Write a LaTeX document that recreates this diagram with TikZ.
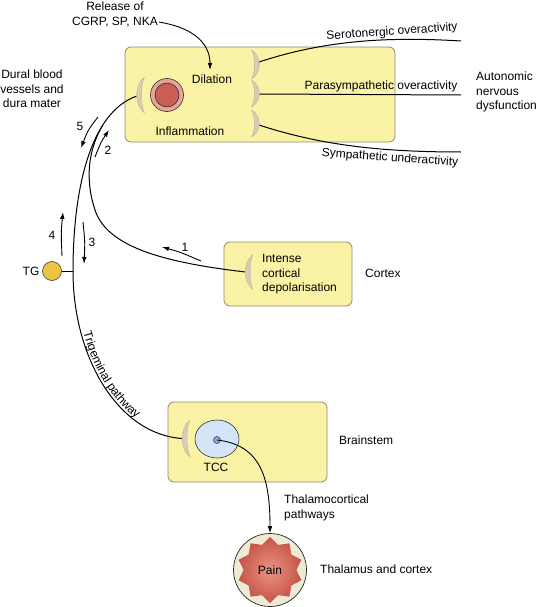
\documentclass[tikz,border=0pt]{standalone}
\usepackage{fontspec}
\setmainfont{Liberation Sans}
\usetikzlibrary{arrows.meta,shapes.geometric,decorations.text}
\definecolor{boxfill}{HTML}{FAF3A6}
\definecolor{boxline}{HTML}{8F8A70}
\definecolor{brk}{HTML}{D6CDB5}
\definecolor{brkline}{HTML}{C2B9A0}
\definecolor{ringfill}{HTML}{E6A595}
\definecolor{redfill}{HTML}{C95E57}
\definecolor{tgfill}{HTML}{EBC445}
\definecolor{tccfill}{HTML}{D5E5F8}
\definecolor{dotfill}{HTML}{8FA8DA}
\definecolor{painbg}{HTML}{EFEAD5}
\definecolor{starin}{HTML}{EA9585}
\definecolor{starout}{HTML}{C65447}
\tikzset{
  regionbox/.style={draw=boxline, fill=boxfill, line width=0.8pt, rounded corners=6pt, inner sep=0pt},
  nerve/.style={line width=1pt, draw=black},
  flow/.style={line width=0.9pt, -{Latex[length=7pt,width=4.6pt]}},
  lbl/.style={inner sep=0pt},
  numlbl/.style={inner sep=0pt},
  outline/.style={draw=black!80, line width=0.6pt},
  cresc/.pic={
    \filldraw[fill=brk, draw=brkline, line width=0.5pt, line join=round]
      (-2.5,-1) .. controls (8,-0.55) and (8,0.55) .. (-2.5,1)
      .. controls (1.5,0.55) and (1.5,-0.55) .. (-2.5,-1) -- cycle;
  }
}
\begin{document}
\begin{tikzpicture}[x=1pt,y=-1pt,font=\fontsize{12}{14.5}\selectfont]
\useasboundingbox (0,0) rectangle (537,607);

% region boxes
\node[regionbox, minimum width=270pt, minimum height=95pt] (topbox) at (260,94.5) {};
\node[regionbox, minimum width=128pt, minimum height=64pt] (cortexbox) at (288,274) {};
\node[regionbox, minimum width=159pt, minimum height=80pt] (brainbox) at (247.5,442) {};

% attachment points
\coordinate (pb) at (137,96);
\coordinate (tb) at (182.5,438.5);
\coordinate (cb) at (245.5,272);
\coordinate (tgj) at (73,271);
\coordinate (sj) at (102.5,125.5);
\coordinate (r1) at (259,62);
\coordinate (r2) at (259,94);
\coordinate (r3) at (259,125);
\coordinate (se) at (461,41);
\coordinate (pe) at (461,95);
\coordinate (sy) at (461,152);

% nerve pathways
\draw[nerve] (pb) .. controls (90,112) and (73,190) .. (tgj)
  .. controls (73,360) and (120,435) .. (tb);
\draw[nerve] (sj) .. controls (88,150) and (85,180) .. (95,210)
  .. controls (107,246) and (160,262) .. (cb);
\path[decorate, decoration={text along path,
    text={|\fontsize{12}{14.5}\selectfont|Trigeminal pathway},
    text align={left indent=63pt}, raise=2.5pt}]
  (tgj) .. controls (73,360) and (120,435) .. (tb);

% autonomic lines
\draw[nerve] (r1) .. controls (320,42) and (380,36) .. (se);
\draw[nerve] (r2) -- (pe);
\draw[nerve] (r3) .. controls (320,145) and (380,152) .. (sy);

% brackets
\pic[xscale=-1,yscale=18] at (142,95) {cresc};
\pic[yscale=14.5] at (254,64.5) {cresc};
\pic[yscale=13.5] at (254,93.5) {cresc};
\pic[yscale=13.5] at (254,123.5) {cresc};
\pic[xscale=-1,yscale=17.5] at (250.5,272) {cresc};
\pic[xscale=-1,yscale=18.5] at (187.5,438.5) {cresc};

% top box contents
\node[circle, outline, fill=ringfill, minimum size=33pt, inner sep=0pt] (ring) at (167,95) {};
\node[circle, outline, fill=redfill, minimum size=24pt, inner sep=0pt] (core) at (ring.center) {};
\node[lbl] (dil) at (212,79) {Dilation};
\node[lbl] (infl) at (190,131) {Inflammation};

% release text and arrow
\node[lbl, align=center] (rel) at (115,14.5) {Release of\\CGRP, SP, NKA};
\coordinate (relend) at (159,22);
\coordinate (dilin) at (210,70);
\draw[flow] (relend) .. controls (200,29) and (210,48) .. (dilin);

\node[lbl, align=center] (dural) at (32,89) {Dural blood\\vessels and\\dura mater};

% autonomic labels
\node[lbl, rotate=4] (sero) at (392,32) {Serotonergic overactivity};
\node[lbl] (para) at (381,86) {Parasympathetic overactivity};
\node[lbl, rotate=-4] (symp) at (390,158) {Sympathetic underactivity};
\node[lbl, anchor=west, align=left] (auto) at (476,92) {Autonomic\\nervous\\dysfunction};

% TG
\node[circle, draw=black!75, line width=0.6pt, fill=tgfill, minimum size=19pt, inner sep=0pt] (tg) at (52,271) {};
\draw[nerve] (tg.east) -- (tgj);
\node[lbl] (tglbl) at (31,271) {TG};

% numbered arrows
\coordinate (a5s) at (98,117); \coordinate (a5e) at (81,148);
\draw[flow] (a5s) .. controls (88,130) .. (a5e);
\node[numlbl] (n5) at (80,126) {5};
\coordinate (a2s) at (95,157); \coordinate (a2e) at (109,130);
\draw[flow] (a2s) .. controls (101,142) .. (a2e);
\node[numlbl] (n2) at (108,150) {2};
\coordinate (a4s) at (62,256); \coordinate (a4e) at (63,212);
\draw[flow] (a4s) .. controls (61,232) .. (a4e);
\node[numlbl] (n4) at (52,235) {4};
\coordinate (a3s) at (83,222); \coordinate (a3e) at (84,264);
\draw[flow] (a3s) .. controls (85,242) .. (a3e);
\node[numlbl] (n3) at (92,242) {3};
\coordinate (a1s) at (201,261); \coordinate (a1e) at (162,247);
\draw[flow] (a1s) .. controls (180,252) .. (a1e);
\node[numlbl] (n1) at (185,247) {1};

% cortex
\node[lbl, anchor=west, align=left] (cortxt) at (262,274.5) {Intense\\cortical\\depolarisation};
\node[lbl, anchor=west] (cortex) at (365,273) {Cortex};

% brainstem
\node[ellipse, outline, fill=tccfill, minimum width=44pt, minimum height=38pt, inner sep=0pt] (tcc) at (217,439) {};
\node[circle, draw=black!80, line width=0.5pt, fill=dotfill, minimum size=7pt, inner sep=0pt] (tccdot) at (217,440) {};
\node[lbl] (tcclbl) at (216,467) {TCC};
\node[lbl, anchor=west] (brainstem) at (339,440) {Brainstem};

% pain
\node[circle, draw=black!85, line width=0.7pt, fill=painbg, minimum size=73pt, inner sep=0pt] (pain) at (270,570) {};
\node[star, star points=10, star point ratio=1.25, minimum size=66pt, inner sep=0pt,
      inner color=starin, outer color=starout] (painstar) at (pain.center) {};
\node[lbl] (paintxt) at (pain.center) {Pain};
\draw[flow] (tccdot.center) .. controls (262,445) and (270,480) .. (pain.north);
\node[lbl, anchor=west, align=left] (thal) at (284,508) {Thalamocortical\\pathways};
\node[lbl, anchor=west] (thalctx) at (320,569) {Thalamus and cortex};
\end{tikzpicture}
\end{document}
